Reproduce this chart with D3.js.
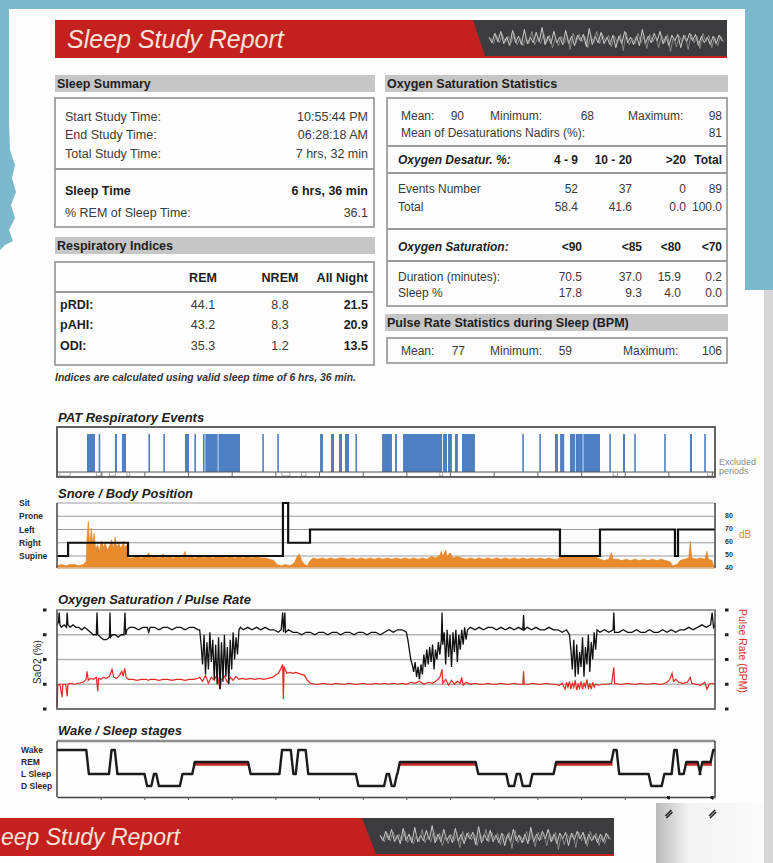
<!DOCTYPE html>
<html>
<head>
<meta charset="utf-8">
<script src="https://cdn.jsdelivr.net/npm/d3@7"></script>
<style>
body { margin: 0; background: #7cb9cd; }
svg { display: block; font-family: "Liberation Sans", Arial, sans-serif; }
</style>
</head>
<body>
<script>
// ---- report values ----
var summaryRows = [["Start Study Time:", "10:55:44 PM"], ["End Study Time:", "06:28:18 AM"], ["Total Study Time:", "7 hrs, 32 min"]];
var sleepRows = [["Sleep Time", "6 hrs, 36 min"], ["% REM of Sleep Time:", "36.1"]];
var respCols = ["REM", "NREM", "All Night"];
var respRows = [["pRDI:", 44.1, 8.8, 21.5], ["pAHI:", 43.2, 8.3, 20.9], ["ODI:", 35.3, 1.2, 13.5]];
var spo2Stats = [["Mean:", 90], ["Minimum:", 68], ["Maximum:", 98]];
var nadirMean = 81;
var desatCols = ["4 - 9", "10 - 20", ">20", "Total"];
var desatRows = [["Events Number", "52", "37", "0", "89"], ["Total", "58.4", "41.6", "0.0", "100.0"]];
var satCols = ["<90", "<85", "<80", "<70"];
var satRows = [["Duration (minutes):", "70.5", "37.0", "15.9", "0.2"], ["Sleep %", "17.8", "9.3", "4.0", "0.0"]];
var pulseStats = [["Mean:", 77], ["Minimum:", 59], ["Maximum:", 106]];

// ---- signals, time in minutes from study start (0 .. 452) ----
var studyMinutes = 452;
var patEvents = [[20.6,26.1],[28.6,29.6],[39.8,41.2],[44.6,47.4],[62.8,63.8],[73.0,74.0],[87.9,90.7],[94.4,95.4],
  [100.3,101.4],[101.9,110.4],[110.9,125.7],[141.0,142.0],[151.3,152.3],[180.7,182.7],[188.2,190.3],[193.7,195.8],
  [197.8,200.6],[205.0,206.0],[223.3,230.1],[232.2,233.5],[237.7,264.5],[265.1,267.9],[268.6,271.3],[273.4,275.4],
  [278.2,287.1],[319.6,320.6],[331.3,332.3],[342.1,344.1],[345.6,348.4],[352.4,355.8],[356.3,361.1],[361.6,373.0],
  [379.4,380.4],[388.8,390.2],[396.5,397.5],[417.1,418.1],[434.8,436.2],[444.6,445.6]];
var excludedPeriods = [[2,9],[27,31],[36,40],[48,50],[154.5,160],[168,171],[263,265],[382,385],[447,450]];

var positions = ["Sit", "Prone", "Left", "Right", "Supine"];
var bodyPosition = [[0,"Supine"],[7.6,"Right"],[48.8,"Supine"],[155.2,"Sit"],[158.8,"Right"],[173.8,"Left"],
  [345.5,"Supine"],[373.0,"Left"],[424.5,"Supine"],[426.6,"Left"],[452,"Left"]];

var dbTicks = [40, 50, 60, 70, 80];
var snoreDb = [[0,41],[3,42],[6,41],[9,42],[12,42],[15,41],[18,42],[20,44],[20.6,62],[21.5,75],[22.5,55],[23.5,70],
  [24.5,58],[25.5,66],[26.5,54],[28,57],[29,52],[30.5,60],[32,55],[33,59],[34.5,53],[36,56],[37.5,61],[38.5,54],
  [40,63],[41,55],[42.5,58],[44,54],[45.5,60],[46.5,55],[48,57],[49,47],[52,47],[55,48],[58,47],[61,48],[63,51],
  [64,47],[67,48],[70,47],[73,50],[74,47],[77,48],[80,47],[83,48],[86,47],[88,52],[89,47],[92,48],[95,47],[98,49],
  [101,47],[104,48],[107,47],[110,48],[113,49],[116,47],[119,48],[122,47],[125,48],[128,47],[131,48],[134,47],
  [137,48],[140,47],[143,47],[146,46],[149,45],[151,42],[154,41],[157,42],[160,41],[163,43],[165,48],[166.5,50],
  [168,45],[170,42],[172,41],[174,45],[176,47],[179,46],[182,47],[185,46],[188,47],[191,46],[194,47],[197,47],
  [200,46],[203,47],[206,46],[209,47],[212,46],[215,47],[218,46],[221,47],[224,46],[227,47],[230,46],[233,47],
  [236,46],[239,47],[242,46],[245,47],[248,46],[251,47],[254,46],[257,48],[260,47],[263,49],[264,52],[265,48],
  [267,53],[268,48],[270,51],[272,47],[275,48],[278,47],[281,46],[284,47],[287,46],[290,47],[293,46],[296,47],
  [299,46],[302,47],[305,46],[308,47],[311,46],[314,47],[317,46],[320,47],[323,46],[326,47],[329,46],[332,47],
  [335,46],[338,47],[341,46],[344,46],[346,48],[349,49],[352,48],[355,49],[358,48],[361,49],[364,48],[367,49],
  [370,48],[373,46],[376,45],[379,46],[381,51],[382,46],[385,46],[388,45],[391,46],[394,45],[397,46],[400,45],
  [403,46],[406,45],[409,46],[412,45],[415,46],[418,45],[421,44],[423,41],[426,42],[428,45],[431,46],[434,47],
  [435,60],[436,47],[439,46],[442,47],[445,46],[446.5,52],[447.5,46],[450,45],[451,41],[452,40]];

var spo2Ticks = [60, 70, 80, 90, 100];
var spo2 = [[0,94],[1,95],[1.5,99],[2,94],[3,93],[5,94],[6.5,93],[7,99],[7.5,94],[9,93],[11,94],[13,93],[15,93],
  [17,92],[19,93],[21,92],[23,91],[25,90],[27,90],[27.5,99],[28,90],[30,89],[32,88],[34,88],[36,89],[36.4,99],
  [36.8,89],[38,90],[40,90],[42,89],[44,90],[46,90],[46.7,99],[47.2,90],[48,92],[50,93],[53,93],[56,92],[59,93],
  [62,93],[63,91],[64,93],[67,93],[70,92],[73,93],[76,93],[79,92],[82,93],[85,93],[88,92],[91,93],[94,93],[97,92],
  [98,92],[99,86],[100,78],[101,90],[102,74],[103,87],[104,76],[105,91],[106,79],[107,88],[108,72],[109,86],
  [110,70],[111,89],[112,68],[113,87],[114,71],[115,90],[116,73],[117,85],[118,70],[119,88],[120,76],[121,91],
  [122,80],[123,89],[124,82],[125,92],[126,93],[128,92],[131,93],[134,92],[137,93],[140,92],[143,93],[146,92],
  [149,92],[152,91],[154,92],[155,99],[155.6,91],[156.5,99],[157,91],[159,92],[162,91],[165,91],[168,90],[171,91],
  [174,91],[177,90],[180,91],[183,91],[186,90],[189,91],[192,91],[195,90],[198,91],[201,91],[204,90],[207,91],
  [210,91],[213,90],[216,91],[219,91],[222,90],[225,91],[228,92],[231,91],[234,92],[237,92],[240,91],[241,88],
  [242,84],[243,80],[244,78],[245,75],[246,79],[247,73],[248,77],[249,72],[250,78],[251,74],[252,82],[253,77],
  [254,84],[255,78],[256,85],[257,79],[258,86],[259,76],[260,84],[261,80],[262,87],[263,82],[264,88],[264.5,99],
  [265,86],[266,91],[267,78],[268,92],[269,81],[270,90],[271,77],[272,91],[273,83],[274,92],[275,79],[276,90],
  [277,84],[278,92],[279,86],[280,93],[281,88],[282,92],[284,93],[287,92],[290,93],[293,92],[296,93],[299,93],
  [302,92],[305,93],[308,92],[311,93],[314,92],[317,93],[320,92],[320.5,98],[321,92],[323,93],[326,92],[329,93],
  [332,92],[335,92],[338,93],[341,92],[344,92],[347,91],[350,92],[352,90],[353,84],[354,76],[355,88],[356,73],
  [357,86],[358,74],[359,83],[360,77],[361,89],[362,73],[363,85],[364,78],[365,90],[366,75],[367,87],[368,80],
  [369,91],[370,84],[371,92],[373,91],[376,92],[379,91],[382,92],[382.5,99],[383,91],[386,91],[389,92],[392,91],
  [395,91],[398,92],[401,91],[404,91],[407,92],[410,91],[413,91],[416,92],[419,91],[422,92],[425,91],[428,92],
  [431,92],[434,93],[437,92],[440,93],[443,94],[446,93],[449,94],[450,99],[451,93],[452,94]];

var pulseTicks = [50, 75, 100, 125, 150];
var pulse = [[0,52],[0.5,74],[2,75],[3.5,62],[4,75],[6,75],[7,63],[7.5,75],[9,76],[12,75],[15,76],[18,77],[20,80],
  [20.6,88],[21.5,79],[23,81],[25,80],[27,82],[28,68],[28.5,81],[30,80],[32,82],[34,81],[36,83],[37.8,90],[39,82],
  [41,81],[43,84],[44.5,88],[45.5,83],[46.5,91],[47.5,82],[49,80],[52,80],[55,79],[58,80],[61,80],[63,79],[64,80],
  [67,80],[70,79],[73,80],[76,80],[79,79],[82,80],[85,80],[88,79],[91,80],[94,80],[97,81],[98,82],[100,78],
  [102,84],[104,76],[106,82],[108,79],[110,85],[112,70],[113,80],[115,83],[117,77],[119,82],[121,79],[123,83],
  [125,80],[127,81],[130,80],[133,81],[136,80],[139,81],[142,80],[145,81],[148,82],[150,84],[152,86],[153.5,90],
  [155,95],[155.5,60],[156,93],[157,89],[158,86],[160,87],[162,86],[164,87],[166,86],[168,85],[170,84],[172,79],
  [174,76],[177,75],[180,75],[183,76],[186,75],[189,75],[192,76],[195,75],[198,75],[201,76],[204,75],[207,75],
  [210,76],[213,75],[216,75],[219,76],[222,75],[225,76],[228,75],[231,76],[234,75],[237,76],[240,75],[243,77],
  [246,76],[249,78],[252,75],[255,77],[258,76],[261,79],[263,82],[264.5,90],[265,76],[267,80],[269,74],[271,79],
  [273,75],[275,78],[277,76],[278,82],[279,74],[281,77],[284,75],[287,76],[290,75],[293,75],[296,76],[299,75],
  [302,75],[305,76],[308,75],[311,75],[314,76],[317,75],[320,75],[320.5,88],[321,75],[324,75],[327,76],[330,75],
  [333,75],[336,76],[339,75],[342,75],[345,74],[347,76],[349,70],[350,77],[351,72],[352,78],[353,70],[354,76],
  [355,72],[356,79],[357,69],[358,75],[359,71],[360,78],[361,70],[362,76],[363,72],[364,80],[365,71],[366,75],
  [367,70],[368,77],[369,72],[370,75],[372,74],[375,75],[378,75],[381,76],[382.5,92],[383,76],[386,75],[389,75],
  [392,76],[395,75],[398,75],[401,76],[404,75],[407,75],[410,76],[413,75],[416,75],[419,77],[421,80],[422.5,86],
  [423.5,78],[425,80],[427,77],[430,76],[433,77],[435,82],[436,76],[439,75],[442,74],[445,77],[446.5,70],[448,75],
  [450,76],[452,75]];

var stages = ["Wake", "REM", "L Sleep", "D Sleep"];
var sleepStages = [[0,"Wake"],[21.0,"L Sleep"],[36.6,"Wake"],[40.6,"L Sleep"],[61.0,"D Sleep"],[65.7,"L Sleep"],
  [69.1,"D Sleep"],[85.3,"L Sleep"],[93.8,"REM"],[132.1,"L Sleep"],[153.7,"Wake"],[161.5,"L Sleep"],[164.9,"Wake"],
  [171.7,"L Sleep"],[206.2,"D Sleep"],[225.6,"L Sleep"],[229.0,"D Sleep"],[232.7,"L Sleep"],[234.7,"REM"],
  [288.5,"L Sleep"],[309.5,"D Sleep"],[314.9,"L Sleep"],[319.0,"D Sleep"],[325.7,"L Sleep"],[342.0,"REM"],
  [381.6,"Wake"],[385.3,"L Sleep"],[407.3,"D Sleep"],[416.3,"L Sleep"],[423.1,"Wake"],[426.6,"L Sleep"],
  [431.4,"REM"],[441.0,"L Sleep"],[442.4,"REM"],[449.9,"Wake"],[452,"Wake"]];

// banner decoration (waveform amplitudes)
var bannerWave = [2,4,6,3,8,5,2,7,9,4,3,6,10,5,2,4,7,3,12,6,3,5,8,4,2,6,9,5,3,7,4,2,5,8,11,6,3,4,7,5,
  2,6,4,9,3,5,8,4,2,6,3,7,10,5,3,4,6,2,8,5,3,7,4,2,5,9,4,3,6,2,5,7,3,4,2,6,3,5,4,2];

var svg = d3.select("body").append("svg").attr("width", 773).attr("height", 863);
var defs = svg.append("defs");

var fmt1 = d3.format(".1f");

function txt(g, x, y, s, size, opt) {
  opt = opt || {};
  return g.append("text").attr("x", x).attr("y", y).text(s)
    .attr("font-size", size)
    .attr("font-weight", opt.bold ? "bold" : null)
    .attr("font-style", opt.italic ? "italic" : null)
    .attr("text-anchor", opt.anchor || "start")
    .attr("fill", opt.fill || "#3a3a3a");
}

// ---- page / background ----
svg.append("rect").attr("width", 773).attr("height", 863).attr("fill", "#7cb9cd");
svg.append("path")
  .attr("d", "M9,9 L745,9 L745,290 L773,290 L773,863 L0,863 L0,250 L5,245 L13,241 L9,230 L15,218 L11,205 L16,192 L12,178 L15,165 L10,150 L9,120 Z")
  .attr("fill", "#fdfdfd");
svg.append("rect").attr("x", 764).attr("y", 290).attr("width", 9).attr("height", 573).attr("fill", "#d6d6d6");

var shade = defs.append("linearGradient").attr("id", "shade");
shade.append("stop").attr("offset", "0").attr("stop-color", "#b9b9b9");
shade.append("stop").attr("offset", "0.3").attr("stop-color", "#f2f2f2");
shade.append("stop").attr("offset", "1").attr("stop-color", "#fbfbfb");
svg.append("rect").attr("x", 656).attr("y", 803).attr("width", 108).attr("height", 60).attr("fill", "url(#shade)");

// ---- banners ----
function banner(x0, y0, x1, h, darkTop, darkBot, label, textX, size) {
  var g = svg.append("g");
  g.append("rect").attr("x", x0).attr("y", y0).attr("width", x1 - x0).attr("height", h).attr("fill", "#c4211e");
  g.append("polygon")
    .attr("points", [[darkTop, y0], [x1, y0], [x1, y0 + h - 2], [darkBot, y0 + h - 2]].join(" "))
    .attr("fill", "#3c3c3e");
  var mid = y0 + h / 2;
  var step = (x1 - darkBot - 6) / bannerWave.length;
  var line = d3.line().x(function(d, i) { return darkBot + 4 + i * step; })
    .y(function(d, i) { return mid + (i % 2 ? d : -d) * h / 40; });
  g.append("path").attr("d", line(bannerWave)).attr("fill", "none").attr("stroke", "#cfcfcf").attr("stroke-width", 1);
  g.append("path").attr("d", line(bannerWave.slice().reverse())).attr("fill", "none")
    .attr("stroke", "#9a9a9a").attr("stroke-width", 0.8).attr("transform", "translate(1.5,1)");
  txt(g, textX, mid + size * 0.36, label, size, {italic: true, fill: "#f6e2da"});
}
banner(55, 20, 727, 38, 473, 485, "Sleep Study Report", 67, 25);
// second page, only partly in view
banner(0, 818, 614, 38, 362, 376, "eep Study Report", 1, 23);

// ---- tables ----
var tb = svg.append("g");
function headerBar(x, y, w, label) {
  tb.append("rect").attr("x", x).attr("y", y).attr("width", w).attr("height", 17).attr("fill", "#c6c6c6");
  txt(tb, x + 2, y + 13, label, 12.5, {bold: true, fill: "#1e1e1e"});
}
function box(x, y, w, h) {
  tb.append("rect").attr("x", x).attr("y", y).attr("width", w).attr("height", h)
    .attr("fill", "none").attr("stroke", "#8a8a8a").attr("stroke-width", 1.5);
}
function sep(x, y, w) {
  tb.append("line").attr("x1", x).attr("x2", x + w).attr("y1", y).attr("y2", y)
    .attr("stroke", "#9a9a9a").attr("stroke-width", 2);
}

// Sleep summary
headerBar(55, 75, 320, "Sleep Summary");
box(55, 98, 319, 129);
summaryRows.forEach(function(r, i) {
  var y = [121, 139, 158][i];
  txt(tb, 65, y, r[0], 12.5);
  txt(tb, 368, y, r[1], 12.5, {anchor: "end"});
});
sep(55, 169, 319);
sleepRows.forEach(function(r, i) {
  var y = [195, 217][i];
  txt(tb, 65, y, r[0], 12.5, {bold: i === 0, fill: i === 0 ? "#1e1e1e" : "#3a3a3a"});
  txt(tb, 368, y, r[1], 12.5, {anchor: "end", bold: i === 0, fill: i === 0 ? "#1e1e1e" : "#3a3a3a"});
});

// Respiratory indices
headerBar(55, 237, 320, "Respiratory Indices");
box(55, 262, 319, 103);
var respX = [203, 280, 368];
respCols.forEach(function(c, i) {
  txt(tb, respX[i], 282, c, 12.5, {bold: true, anchor: i === 2 ? "end" : "middle", fill: "#1e1e1e"});
});
sep(55, 292, 319);
respRows.forEach(function(r, i) {
  var y = [309, 329, 350][i];
  txt(tb, 60, y, r[0], 12.5, {bold: true, fill: "#1e1e1e"});
  txt(tb, respX[0], y, fmt1(r[1]), 12.5, {anchor: "middle"});
  txt(tb, respX[1], y, fmt1(r[2]), 12.5, {anchor: "middle"});
  txt(tb, respX[2], y, fmt1(r[3]), 12.5, {anchor: "end", bold: true, fill: "#1e1e1e"});
});
txt(tb, 55, 381, "Indices are calculated using valid sleep time of 6 hrs, 36 min.", 10.4, {italic: true, bold: true, fill: "#333"});

// Oxygen saturation statistics
var fs = 12;
headerBar(385, 75, 343, "Oxygen Saturation Statistics");
box(387, 98, 340, 208);
var statLabelX = [401, 490, 628], statValX = [464, 594, 722];
spo2Stats.forEach(function(s, i) {
  txt(tb, statLabelX[i], 120, s[0], fs);
  txt(tb, statValX[i], 120, s[1], fs, {anchor: "end"});
});
txt(tb, 401, 137, "Mean of Desaturations Nadirs (%):", fs);
txt(tb, 722, 137, nadirMean, fs, {anchor: "end"});
sep(387, 146, 340);
var desatX = [578, 632, 686, 722];
txt(tb, 398, 164, "Oxygen Desatur. %:", fs, {bold: true, italic: true, fill: "#1e1e1e"});
desatCols.forEach(function(c, i) { txt(tb, desatX[i], 164, c, fs, {bold: true, anchor: "end", fill: "#1e1e1e"}); });
sep(387, 173, 340);
desatRows.forEach(function(r, i) {
  var y = [193, 211][i];
  txt(tb, 398, y, r[0], fs);
  r.slice(1).forEach(function(v, j) { txt(tb, desatX[j], y, v, fs, {anchor: "end"}); });
});
sep(387, 229, 340);
var satX = [582, 642, 681, 722];
txt(tb, 398, 251, "Oxygen Saturation:", fs, {bold: true, italic: true, fill: "#1e1e1e"});
satCols.forEach(function(c, i) { txt(tb, satX[i], 251, c, fs, {bold: true, anchor: "end", fill: "#1e1e1e"}); });
sep(387, 261, 340);
satRows.forEach(function(r, i) {
  var y = [281, 297][i];
  txt(tb, 398, y, r[0], fs);
  r.slice(1).forEach(function(v, j) { txt(tb, satX[j], y, v, fs, {anchor: "end"}); });
});

// Pulse rate
headerBar(385, 314, 343, "Pulse Rate Statistics during Sleep (BPM)");
box(387, 338, 340, 25);
var pulseLabelX = [401, 490, 623], pulseValX = [465, 572, 722];
pulseStats.forEach(function(s, i) {
  txt(tb, pulseLabelX[i], 355, s[0], fs);
  txt(tb, pulseValX[i], 355, s[1], fs, {anchor: "end"});
});

// ---- charts ----
var x = d3.scaleLinear().domain([0, studyMinutes]).range([57, 715]);
var hourTicks = d3.range(30, studyMinutes, 30);

function chartTitle(y, label) {
  txt(svg, 58, y, label, 13, {bold: true, italic: true, fill: "#1e1e1e"});
}

// PAT respiratory events
var pat = svg.append("g");
chartTitle(422, "PAT Respiratory Events");
pat.selectAll("rect.ev").data(patEvents).join("rect").attr("class", "ev")
  .attr("x", function(d) { return x(d[0]); })
  .attr("width", function(d) { return Math.max(1.6, x(d[1]) - x(d[0])); })
  .attr("y", 434).attr("height", 38).attr("fill", "#4d7fc2");
pat.append("line").attr("x1", 57).attr("x2", 715).attr("y1", 472).attr("y2", 472).attr("stroke", "#555").attr("stroke-width", 1);
pat.selectAll("rect.ex").data(excludedPeriods).join("rect").attr("class", "ex")
  .attr("x", function(d) { return x(d[0]); }).attr("width", function(d) { return x(d[1]) - x(d[0]); })
  .attr("y", 472.5).attr("height", 3.5).attr("fill", "#fff").attr("stroke", "#888").attr("stroke-width", 0.7);
pat.append("g").attr("transform", "translate(0,472)")
  .call(d3.axisBottom(x).tickValues(hourTicks).tickFormat("").tickSize(4).tickSizeOuter(0))
  .call(function(g) { g.select(".domain").remove(); g.selectAll("line").attr("stroke", "#666"); });
pat.append("rect").attr("x", 57).attr("y", 427).attr("width", 658).attr("height", 50)
  .attr("fill", "none").attr("stroke", "#3c3c3c").attr("stroke-width", 1.6);
txt(pat, 719, 465, "Excluded", 9, {fill: "#8c8c8c"});
txt(pat, 719, 474, "periods", 9, {fill: "#8c8c8c"});

// Snore / body position
var sn = svg.append("g");
chartTitle(498, "Snore / Body Position");
var yPos = d3.scalePoint().domain(positions).range([503, 556]);
var yDb = d3.scaleLinear().domain([40, 80]).range([567, 515]);
sn.selectAll("line.grid").data(positions).join("line").attr("class", "grid")
  .attr("x1", 57).attr("x2", 715)
  .attr("y1", function(d) { return yPos(d); }).attr("y2", function(d) { return yPos(d); })
  .attr("stroke", "#9d9d9d").attr("stroke-width", 1.2);
sn.append("path").datum(snoreDb)
  .attr("d", d3.area().x(function(d) { return x(d[0]); }).y0(yDb(40)).y1(function(d) { return yDb(d[1]); }))
  .attr("fill", "#e98a2c").attr("stroke", "#e07f1f").attr("stroke-width", 0.6);
sn.append("path").datum(bodyPosition)
  .attr("d", d3.line().curve(d3.curveStepAfter).x(function(d) { return x(d[0]); }).y(function(d) { return yPos(d[1]); }))
  .attr("fill", "none").attr("stroke", "#111").attr("stroke-width", 2.2);
sn.append("line").attr("x1", 57).attr("x2", 57).attr("y1", 503).attr("y2", 568).attr("stroke", "#444").attr("stroke-width", 1.5);
sn.append("line").attr("x1", 715).attr("x2", 715).attr("y1", 503).attr("y2", 568).attr("stroke", "#444").attr("stroke-width", 1.5);
sn.append("line").attr("x1", 57).attr("x2", 715).attr("y1", 568).attr("y2", 568).attr("stroke", "#c98a4a").attr("stroke-width", 1);
sn.selectAll("text.pos").data(positions).join("text").attr("class", "pos")
  .attr("x", 19).attr("y", function(d) { return yPos(d) + 3; }).text(function(d) { return d; })
  .attr("font-size", 8.5).attr("font-weight", "bold").attr("fill", "#2a2a2a");
sn.selectAll("text.db").data(dbTicks).join("text").attr("class", "db")
  .attr("x", 725).attr("y", function(d) { return yDb(d) + 2.5; }).text(function(d) { return d; })
  .attr("font-size", 7).attr("font-weight", "bold").attr("fill", "#333");
txt(sn, 739, 538, "dB", 10, {fill: "#e08a2a"});

// Oxygen saturation / pulse rate
var ox = svg.append("g");
chartTitle(604, "Oxygen Saturation / Pulse Rate");
var ySpo2 = d3.scaleLinear().domain([60, 100]).range([709, 610]);
var yPulse = d3.scaleLinear().domain([50, 150]).range([709, 610]);
ox.selectAll("line.grid").data([70, 80, 90]).join("line").attr("class", "grid")
  .attr("x1", 57).attr("x2", 715)
  .attr("y1", function(d) { return ySpo2(d); }).attr("y2", function(d) { return ySpo2(d); })
  .attr("stroke", "#b4b4b4").attr("stroke-width", 1.5);
ox.append("path").datum(pulse)
  .attr("d", d3.line().x(function(d) { return x(d[0]); }).y(function(d) { return yPulse(d[1]); }))
  .attr("fill", "none").attr("stroke", "#e12a22").attr("stroke-width", 1.2);
ox.append("path").datum(spo2)
  .attr("d", d3.line().x(function(d) { return x(d[0]); }).y(function(d) { return ySpo2(d[1]); }))
  .attr("fill", "none").attr("stroke", "#111").attr("stroke-width", 1.3);
ox.append("rect").attr("x", 57).attr("y", 610).attr("width", 658).attr("height", 99)
  .attr("fill", "none").attr("stroke", "#444").attr("stroke-width", 1.5);
ox.append("line").attr("x1", 57).attr("x2", 715).attr("y1", 610).attr("y2", 610).attr("stroke", "#999").attr("stroke-width", 2);
ox.selectAll("rect.lt").data(spo2Ticks).join("rect").attr("class", "lt")
  .attr("x", 43).attr("y", function(d) { return ySpo2(d) - 1.5; }).attr("width", 3.5).attr("height", 3)
  .attr("fill", "#222");
ox.selectAll("rect.rt").data(pulseTicks).join("rect").attr("class", "rt")
  .attr("x", 725).attr("y", function(d) { return yPulse(d) - 1.5; }).attr("width", 3.5).attr("height", 3)
  .attr("fill", "#222");
ox.append("text").attr("transform", "translate(41,662) rotate(-90)").attr("text-anchor", "middle")
  .attr("font-size", 10).attr("fill", "#2a2a2a").text("SaO2 (%)");
ox.append("text").attr("transform", "translate(739,651) rotate(90)").attr("text-anchor", "middle")
  .attr("font-size", 10.5).attr("fill", "#d8342c").text("Pulse Rate (BPM)");

// Wake / sleep stages
var st = svg.append("g");
chartTitle(735, "Wake / Sleep stages");
var yStage = d3.scalePoint().domain(stages).range([750, 786]);
st.append("line").attr("x1", 57).attr("x2", 715).attr("y1", 741).attr("y2", 741).attr("stroke", "#8d8d8d").attr("stroke-width", 2.5);
st.append("line").attr("x1", 57).attr("x2", 57).attr("y1", 741).attr("y2", 797).attr("stroke", "#444").attr("stroke-width", 1.5);
st.append("line").attr("x1", 715).attr("x2", 715).attr("y1", 741).attr("y2", 797).attr("stroke", "#444").attr("stroke-width", 1.5);
st.append("g").attr("transform", "translate(0,797)")
  .call(d3.axisBottom(x).tickValues(hourTicks).tickFormat("").tickSize(3).tickSizeOuter(0))
  .call(function(g) { g.select(".domain").attr("stroke", "#444").attr("stroke-width", 1.5); g.selectAll("line").attr("stroke", "#555"); });

var remSegs = [];
sleepStages.forEach(function(d, i) {
  if (d[1] === "REM" && i < sleepStages.length - 1) remSegs.push([d[0], sleepStages[i + 1][0]]);
});
st.selectAll("line.rem").data(remSegs).join("line").attr("class", "rem")
  .attr("x1", function(d) { return x(d[0]); }).attr("x2", function(d) { return x(d[1]); })
  .attr("y1", yStage("REM") + 2).attr("y2", yStage("REM") + 2)
  .attr("stroke", "#c62a25").attr("stroke-width", 3.5);

var ramp = 0.9;
var stagePts = [];
sleepStages.forEach(function(d, i) {
  if (i > 0) stagePts.push([d[0] - ramp, sleepStages[i - 1][1]]);
  stagePts.push([i > 0 && i < sleepStages.length - 1 ? d[0] + ramp : d[0], d[1]]);
});
st.append("path").datum(stagePts)
  .attr("d", d3.line().x(function(d) { return x(d[0]); }).y(function(d) { return yStage(d[1]); }))
  .attr("fill", "none").attr("stroke", "#1b1b1b").attr("stroke-width", 2.4).attr("stroke-linejoin", "round");
st.selectAll("text.stg").data(stages).join("text").attr("class", "stg")
  .attr("x", 21).attr("y", function(d) { return yStage(d) + 3; }).text(function(d) { return d; })
  .attr("font-size", 8.5).attr("font-weight", "bold").attr("fill", "#2a2a2a");

// break marks on the last two time ticks
[420, 450].forEach(function(m) {
  st.append("rect").attr("x", x(m) - 1.5).attr("y", 796).attr("width", 3).attr("height", 3).attr("fill", "#222");
  st.append("path").attr("d", "M" + (x(m) - 3) + ",816 l6,-6 M" + (x(m) - 2) + ",818 l6,-6")
    .attr("stroke", "#222").attr("stroke-width", 1.6);
});
</script>
</body>
</html>
